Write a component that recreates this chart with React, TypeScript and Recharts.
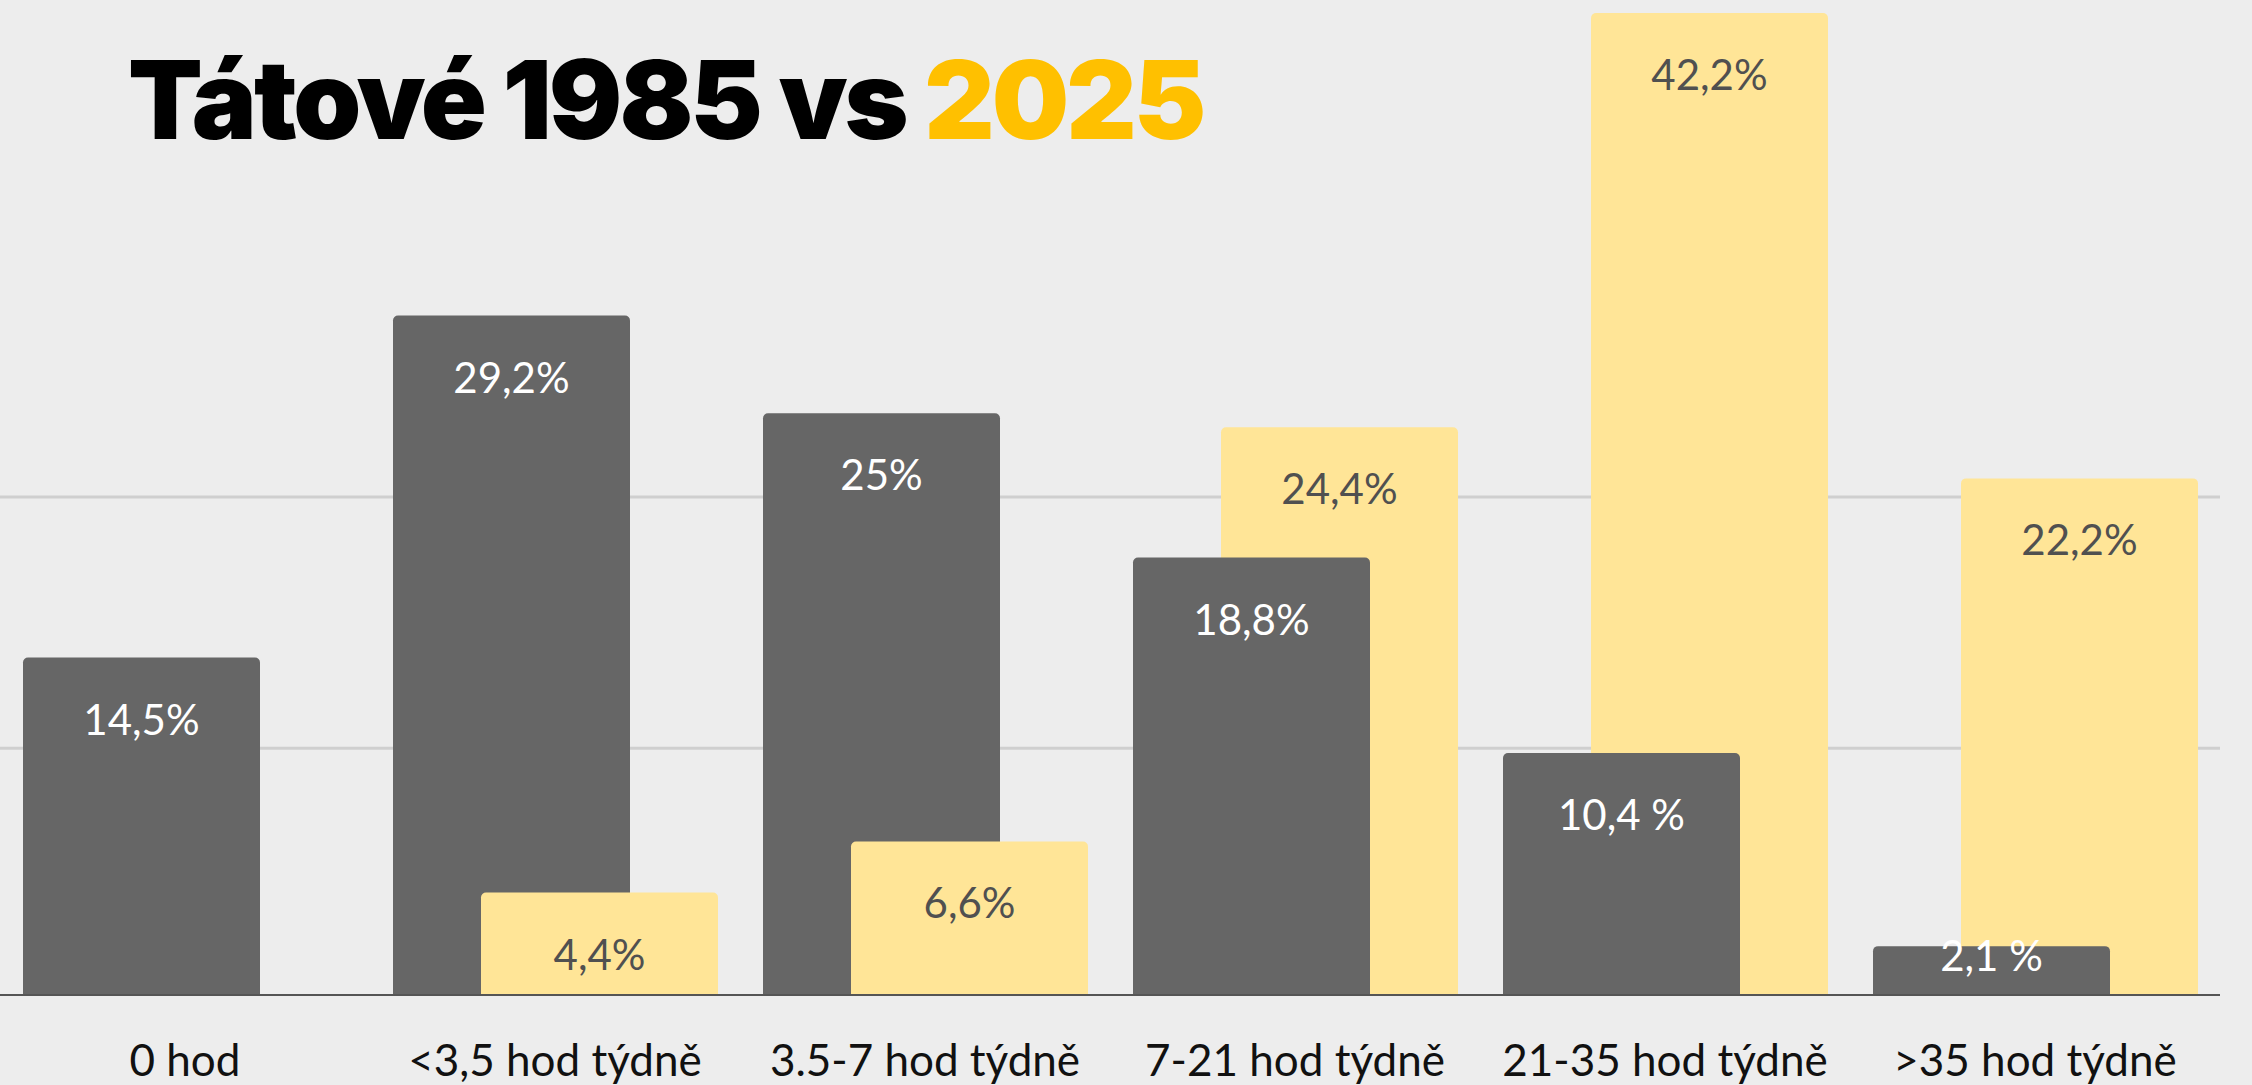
import { BarChart, Bar, XAxis, YAxis, CartesianGrid, LabelList } from "recharts";

const categories = [
  "0 hod",
  "<3,5 hod týdně",
  "3.5-7 hod týdně",
  "7-21 hod týdně",
  "21-35 hod týdně",
  ">35 hod týdně",
];
const dads1985 = [14.5, 29.2, 25, 18.8, 10.4, 2.1];
const dads2025 = [0, 4.4, 6.6, 24.4, 42.2, 22.2];
const labels1985 = ["14,5%", "29,2%", "25%", "18,8%", "10,4 %", "2,1 %"];
const labels2025 = ["", "4,4%", "6,6%", "24,4%", "42,2%", "22,2%"];
const gridValues = [10.6, 21.4];

const GREY = "#666666";
const YELLOW = "#FFE597";
const GOLD = "#FFC000";
const BG = "#EDEDED";

// the shorter bar of each pair sits in front, so 2025 is split in two series
const data = categories.map((name, i) => ({
  name,
  grey: dads1985[i],
  yTall: dads2025[i] > dads1985[i] ? dads2025[i] : null,
  ySmall: dads2025[i] > 0 && dads2025[i] <= dads1985[i] ? dads2025[i] : null,
  greyLabel: labels1985[i],
  yLabel: labels2025[i],
}));

const makeLabel = (fill: string) => (props: any) => {
  const { x, y, width, height, value } = props;
  if (!value || !height || height <= 0) return null;
  const center = height < 80 ? y + 10 : y + 62;
  return (
    <text
      x={x + width / 2}
      y={center + 15}
      textAnchor="middle"
      fill={fill}
      fontFamily="Lato"
      fontSize={42}
    >
      {value}
    </text>
  );
};

function CategoryTick({ x, y, payload }: any) {
  return (
    <text x={x} y={y + 81} textAnchor="middle" fill="#111" fontFamily="Lato" fontSize={44}>
      {payload.value}
    </text>
  );
}

export default function App() {
  return (
    <div
      style={{
        position: "fixed",
        left: 0,
        top: 0,
        width: 2252,
        height: 1085,
        background: BG,
        overflow: "hidden",
      }}
    >
      <BarChart
        width={2252}
        height={1085}
        data={data}
        margin={{ top: 13, right: 32, left: 0, bottom: 0 }}
        barGap={-325}
      >
        <CartesianGrid
          vertical={false}
          horizontalValues={gridValues}
          stroke="#CFCFCF"
          strokeWidth={3}
        />
        <XAxis
          dataKey="name"
          interval={0}
          height={90}
          tickLine={false}
          tickSize={0}
          tickMargin={0}
          axisLine={{ stroke: "#555", strokeWidth: 2 }}
          tick={<CategoryTick />}
        />
        <YAxis hide domain={[0, 42.2]} allowDataOverflow ticks={gridValues} />
        <Bar dataKey="yTall" stackId="y" fill={YELLOW} barSize={237} radius={[5, 5, 0, 0]} isAnimationActive={false}>
          <LabelList dataKey="yLabel" content={makeLabel("#505050")} />
        </Bar>
        <Bar dataKey="grey" fill={GREY} barSize={237} radius={[5, 5, 0, 0]} isAnimationActive={false}>
          <LabelList dataKey="greyLabel" content={makeLabel("#FFFFFF")} />
        </Bar>
        <Bar dataKey="ySmall" stackId="y" fill={YELLOW} barSize={237} radius={[5, 5, 0, 0]} isAnimationActive={false}>
          <LabelList dataKey="yLabel" content={makeLabel("#505050")} />
        </Bar>
      </BarChart>
      <div
        style={{
          position: "absolute",
          left: 128,
          top: 44,
          fontFamily: "Inter",
          fontWeight: 900,
          fontSize: 109,
          lineHeight: "110px",
          letterSpacing: -3,
          color: "#000",
          whiteSpace: "nowrap",
        }}
      >
        Tátové 1985 vs <span style={{ color: GOLD }}>2025</span>
      </div>
    </div>
  );
}
